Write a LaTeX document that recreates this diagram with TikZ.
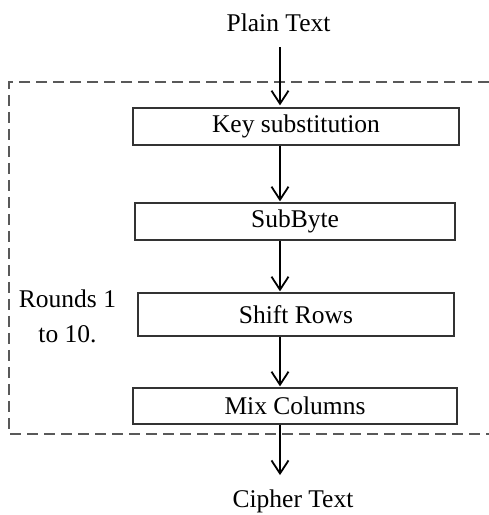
\documentclass[tikz,border=0pt]{standalone}
\usepackage{fontspec}
\setmainfont{Liberation Serif}
\usepackage{tikz}
\usetikzlibrary{arrows.meta,calc}

\tikzset{
  etapa/.style={draw=black!80,line width=1.3pt,inner sep=0pt,font=\fontsize{25.5}{30}\selectfont},
  fluxo/.style={line width=1.8pt,-{Straight Barb[length=13pt,width=17pt,line width=1.8pt]}},
  rodada/.style={draw=black!65,line width=1.3pt,dash pattern=on 11pt off 6pt},
  rotulo/.style={font=\fontsize{25.5}{35}\selectfont,inner sep=3pt}
}

\begin{document}
\begin{tikzpicture}[x=1pt,y=1pt]
\useasboundingbox (0,0) rectangle (489,515);
% Caixa tracejada das rodadas
\draw[rodada] (489,433) -- (9,433) -- (9,81) -- (489,81);
% Etapas
\node[etapa,minimum width=326pt,minimum height=37pt] (key) at (296,388.5) {Key substitution};
\node[etapa,minimum width=320pt,minimum height=37pt] (sub) at (295,293.5) {SubByte};
\node[etapa,minimum width=316pt,minimum height=43pt] (shift) at (296,200.5) {Shift Rows};
\node[etapa,minimum width=324pt,minimum height=36pt] (mix) at (295,109) {Mix Columns};
% Textos
\node[rotulo,anchor=base] (plain) at (278.5,483) {Plain Text};
\node[rotulo,anchor=base] (cipher) at (293,7) {Cipher Text};
\node[rotulo,align=center] (rounds) at (67.5,199) {Rounds 1\\to 10.};
% Setas
\coordinate (eixo) at (280,0);
\draw[fluxo,shorten <=12pt,shorten >=2pt] (plain.south -| eixo) -- (key.north -| eixo);
\draw[fluxo,shorten >=1pt] (key.south -| eixo) -- (sub.north -| eixo);
\draw[fluxo,shorten >=1pt] (sub.south -| eixo) -- (shift.north -| eixo);
\draw[fluxo,shorten >=1pt] (shift.south -| eixo) -- (mix.north -| eixo);
\draw[fluxo,shorten >=12pt] (mix.south -| eixo) -- (cipher.north -| eixo);
\end{tikzpicture}
\end{document}
